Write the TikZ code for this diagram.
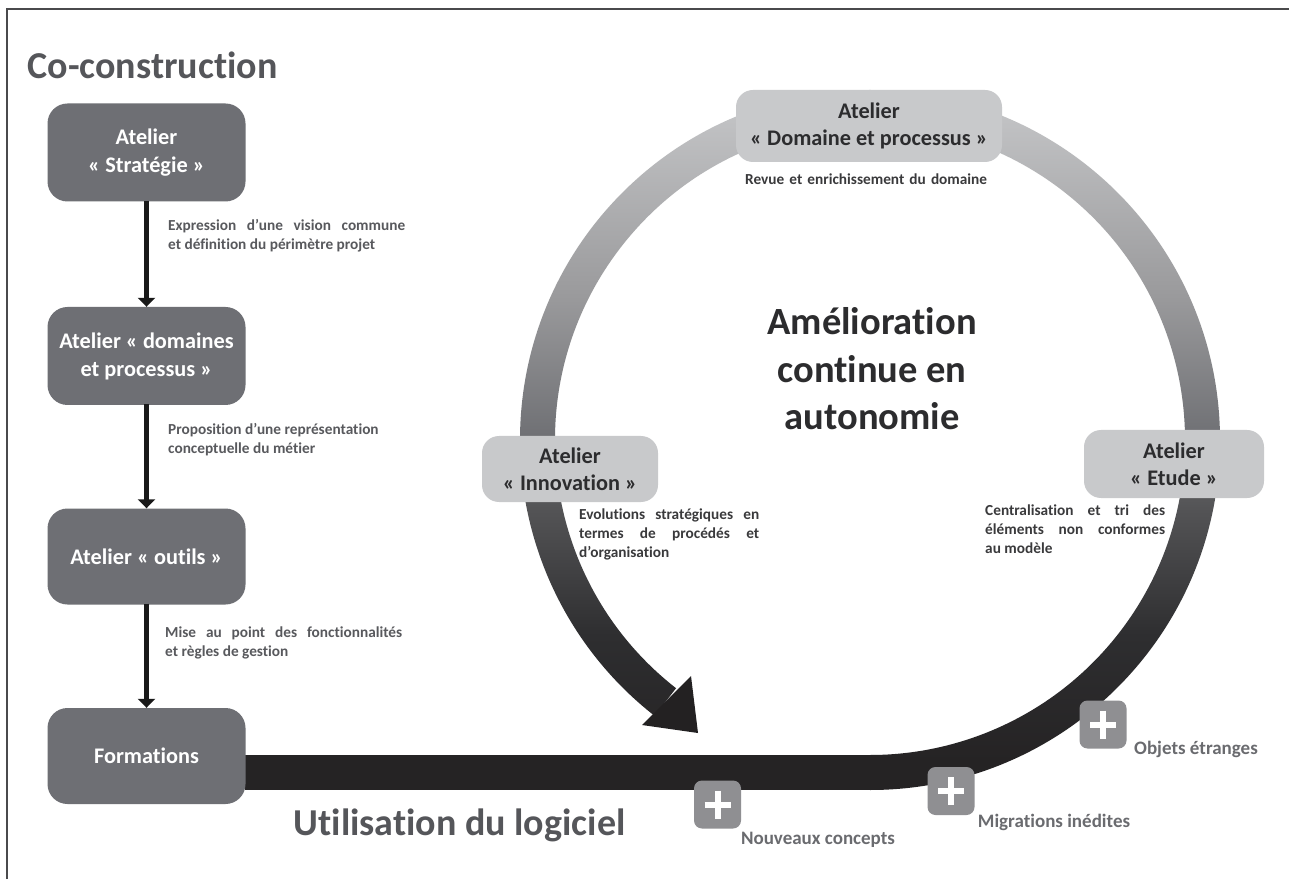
\documentclass[tikz,border=0pt]{standalone}
\usepackage{fontspec}
\setmainfont{Carlito}[RawFeature={-liga}]
\usetikzlibrary{arrows.meta}
\hyphenpenalty=10000
\definecolor{frameC}{HTML}{4A4A4C}
\definecolor{boxDark}{HTML}{6E6F74}
\definecolor{boxLight}{HTML}{C8C9CB}
\definecolor{plusC}{HTML}{8F8F92}
\definecolor{barC}{HTML}{252324}
\definecolor{titleC}{HTML}{55565A}
\definecolor{capL}{HTML}{58595D}
\definecolor{capR}{HTML}{3A3A3C}
\definecolor{inkC}{HTML}{2C2C2E}
\definecolor{labC}{HTML}{6A6B6F}
\definecolor{ringA}{HTML}{2E2E30}
\definecolor{ringB}{HTML}{545456}
\definecolor{ringC}{HTML}{6F7074}
\definecolor{ringD}{HTML}{9A9A9C}
\pgfdeclareverticalshading{ringshade}{100bp}{color(0bp)=(barC); color(27bp)=(barC); color(36bp)=(ringA); color(45bp)=(ringB); color(50bp)=(ringC); color(60bp)=(ringD); color(75bp)=(boxLight); color(100bp)=(boxLight)}
\tikzset{
  darkbox/.style={draw=none,fill=boxDark,rounded corners=20pt,minimum width=198pt,text=white,
    align=center,inner sep=0pt,font=\fontsize{22.3}{28}\selectfont\bfseries},
  lightbox/.style={draw=none,fill=boxLight,rounded corners=17pt,text=inkC,
    align=center,inner sep=0pt,font=\fontsize{22.3}{27}\selectfont\bfseries},
  capbase/.style={anchor=north west,inner sep=0pt,font=\fontsize{15.3}{19}\selectfont\bfseries},
  capleft/.style={capbase,text=capL,align=left},
  capright/.style={capbase,text=capR,align=justify},
  capjust/.style={capbase,text=capL,align=justify},
  flowarrow/.style={draw=black!90,line width=5pt,-{Triangle[width=17pt,length=9pt]},shorten <=-1pt},
  plusbox/.style={draw=none,fill=plusC,rounded corners=8pt,minimum width=47pt,minimum height=48pt,inner sep=0pt},
  plusbar/.style={draw=white,line width=6pt},
  pluslabel/.style={anchor=center,inner sep=0pt,text=labC,font=\fontsize{19}{22}\selectfont\bfseries},
  bigtitle/.style={anchor=center,inner sep=0pt,text=titleC,font=\fontsize{38}{42}\selectfont\bfseries},
}
\begin{document}
\begin{tikzpicture}[x=1pt,y=-1pt,yshift=879pt]
\useasboundingbox (0,0) rectangle (1289,879);
\fill[white] (0,0) rectangle (1289,879);
\draw[frameC,line width=1.6pt] (7,879) -- (7,9) -- (1289,9);

% ring
\begin{scope}[shift={(870,440)},y=1pt]
\shade[shading=ringshade]
  (-90:350) arc[start angle=-90,end angle=232,radius=350]
  -- (232:315) arc[start angle=232,end angle=-90,radius=315] -- cycle;
\end{scope}
\fill[barC] (245,755) rectangle (872,790);
\fill[barC!95!black] (698,733) -- (691,676) -- (642,725) -- cycle;

% left column
\node[darkbox,minimum height=98pt] (b1) at (146.5,152.5) {Atelier\\« Stratégie »};
\node[darkbox,minimum height=98pt] (b2) at (146.5,356) {Atelier « domaines\\et processus »};
\node[darkbox,minimum height=96pt] (b3) at (146.5,556.5) {Atelier « outils »};
\node[darkbox,minimum height=96pt] (b4) at (146.5,756) {Formations};
\draw[flowarrow] (b1) -- (b2);
\draw[flowarrow] (b2) -- (b3);
\draw[flowarrow,line width=4.5pt] (b3) -- (b4);

% ring boxes
\node[lightbox,minimum width=266pt,minimum height=72pt] (dom) at (869,126) {Atelier\\« Domaine et processus »};
\node[lightbox,minimum width=176pt,minimum height=66pt] (inn) at (570,469) {Atelier\\« Innovation »};
\node[lightbox,minimum width=180pt,minimum height=68pt] (etu) at (1174,464) {Atelier\\« Etude »};

% titles
\node[bigtitle] (t1) at (152.5,65) {Co-construction};
\node[bigtitle] (t2) at (459.5,825) {Utilisation du logiciel};
\node[anchor=center,inner sep=0pt,text=inkC,align=center,font=\fontsize{38.5}{47.5}\selectfont\bfseries] (t3) at (872,369) {Amélioration\\continue en\\autonomie};

% captions
\node[capjust,text width=237pt] (c1) at (168,219) {Expression d’une vision commune\linebreak et définition du périmètre projet};
\node[capleft] (c2) at (168,423) {Proposition d’une représentation\\conceptuelle du métier};
\node[capjust,text width=237pt] (c3) at (165,627) {Mise au point des fonctionnalités\linebreak et règles de gestion};
\node[capright,text width=250pt,align=left] (c4) at (745,174) {Revue et enrichissement du domaine};
\node[capright,text width=180pt] (c5) at (579,509) {Evolutions stratégiques en\linebreak termes de procédés et\linebreak d’organisation};
\node[capright,text width=180pt] (c6) at (985,505) {Centralisation et tri des\linebreak éléments non conformes\linebreak au modèle};

% plus
\node[plusbox] (p1) at (717.5,804.5) {};
\node[plusbox] (p2) at (951,791) {};
\node[plusbox] (p3) at (1103,724.5) {};
\foreach \p in {p1,p2,p3} {
  \draw[plusbar] (\p.center) +(-13,0) -- +(13,0);
  \draw[plusbar] (\p.center) +(0,-14) -- +(0,14);
}
\node[pluslabel] (l1) at (818,840) {Nouveaux concepts};
\node[pluslabel] (l2) at (1054,822) {Migrations inédites};
\node[pluslabel] (l3) at (1196,749) {Objets étranges};
\end{tikzpicture}
\end{document}
